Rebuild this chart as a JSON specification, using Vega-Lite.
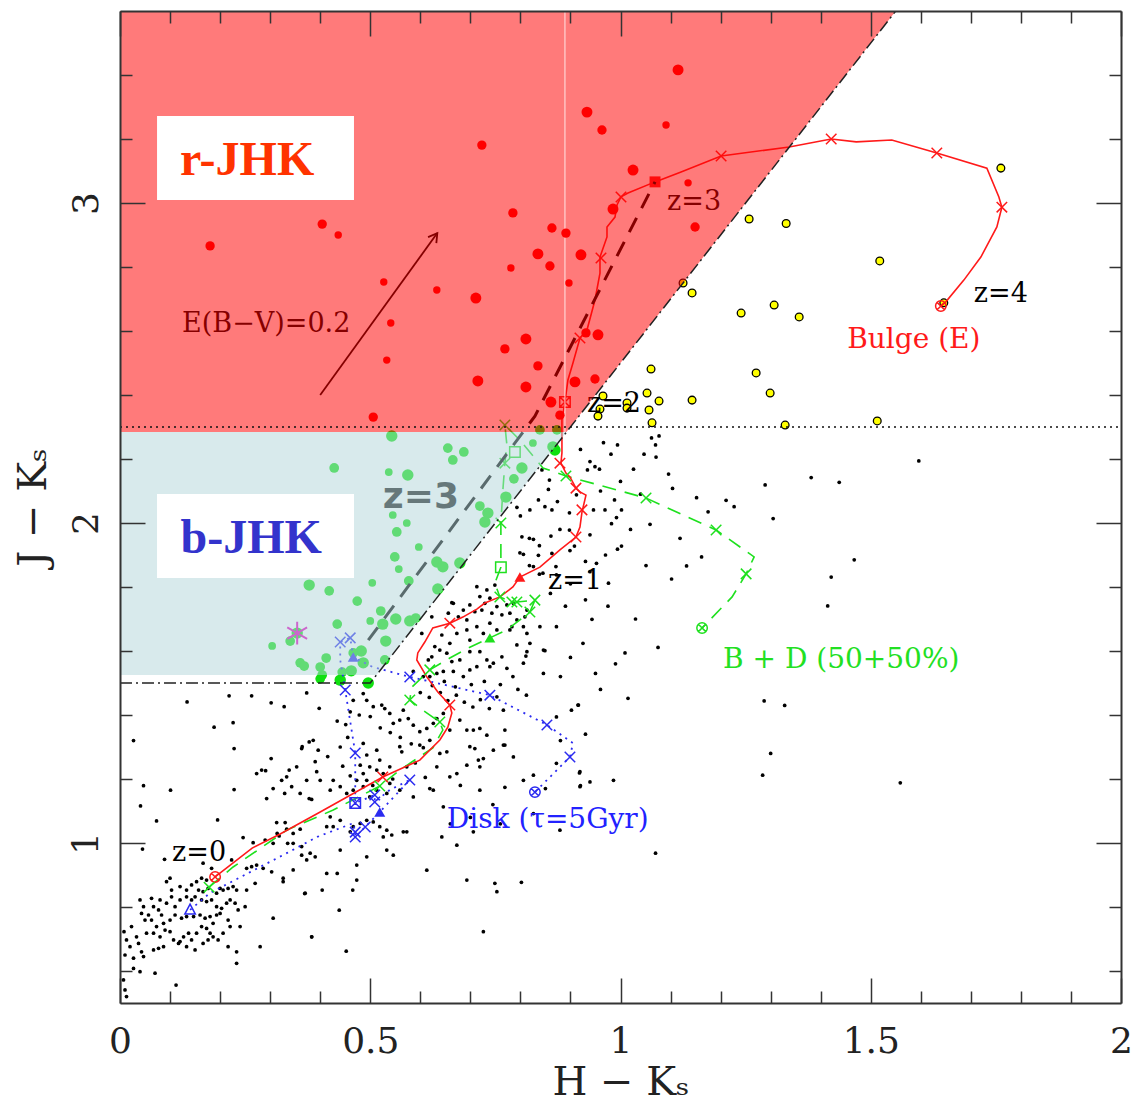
{
"$schema": "https://vega.github.io/schema/vega-lite/v6.json",
"width": 1001, "height": 992,
"autosize": "none",
"padding": {"left": 120, "top": 11, "right": 11, "bottom": 106},
"background": "white",
"config": {"view": {"stroke": null}},
"datasets": {
"dots": [
{"x":0.041,"y":1.116},{"x":0.073,"y":1.069},{"x":0.195,"y":1.072},{"x":0.313,"y":1.064},{"x":0.330,"y":1.064},{"x":0.333,"y":1.043},{"x":0.314,"y":1.030},{"x":0.318,"y":1.022},{"x":0.335,"y":0.999},{"x":0.346,"y":1.030},{"x":0.360,"y":1.043},{"x":0.045,"y":0.981},{"x":0.246,"y":1.017},{"x":0.266,"y":1.001},{"x":0.290,"y":1.009},{"x":0.306,"y":0.999},{"x":0.346,"y":0.999},{"x":0.363,"y":0.989},{"x":0.380,"y":0.968},{"x":0.089,"y":0.949},{"x":0.166,"y":0.937},{"x":0.183,"y":0.921},{"x":0.223,"y":0.947},{"x":0.263,"y":0.926},{"x":0.273,"y":0.931},{"x":0.286,"y":0.921},{"x":0.303,"y":0.910},{"x":0.326,"y":0.890},{"x":0.346,"y":0.916},{"x":0.363,"y":0.962},{"x":0.373,"y":0.947},{"x":0.390,"y":0.957},{"x":0.100,"y":0.890},{"x":0.093,"y":0.879},{"x":0.103,"y":0.853},{"x":0.120,"y":0.864},{"x":0.133,"y":0.853},{"x":0.143,"y":0.869},{"x":0.153,"y":0.879},{"x":0.163,"y":0.890},{"x":0.173,"y":0.884},{"x":0.157,"y":0.853},{"x":0.166,"y":0.848},{"x":0.176,"y":0.858},{"x":0.193,"y":0.843},{"x":0.200,"y":0.858},{"x":0.206,"y":0.853},{"x":0.216,"y":0.858},{"x":0.226,"y":0.864},{"x":0.233,"y":0.853},{"x":0.253,"y":0.853},{"x":0.270,"y":0.874},{"x":0.253,"y":0.921},{"x":0.063,"y":0.827},{"x":0.080,"y":0.822},{"x":0.067,"y":0.801},{"x":0.077,"y":0.791},{"x":0.083,"y":0.775},{"x":0.093,"y":0.812},{"x":0.103,"y":0.832},{"x":0.110,"y":0.801},{"x":0.120,"y":0.822},{"x":0.133,"y":0.832},{"x":0.143,"y":0.822},{"x":0.150,"y":0.832},{"x":0.163,"y":0.822},{"x":0.173,"y":0.817},{"x":0.183,"y":0.822},{"x":0.193,"y":0.801},{"x":0.203,"y":0.796},{"x":0.213,"y":0.812},{"x":0.220,"y":0.822},{"x":0.230,"y":0.812},{"x":0.236,"y":0.791},{"x":0.250,"y":0.801},{"x":0.040,"y":0.822},{"x":0.043,"y":0.780},{"x":0.047,"y":0.801},{"x":0.050,"y":0.759},{"x":0.057,"y":0.775},{"x":0.063,"y":0.759},{"x":0.073,"y":0.739},{"x":0.087,"y":0.749},{"x":0.100,"y":0.759},{"x":0.110,"y":0.775},{"x":0.123,"y":0.765},{"x":0.133,"y":0.770},{"x":0.147,"y":0.770},{"x":0.160,"y":0.775},{"x":0.170,"y":0.765},{"x":0.180,"y":0.770},{"x":0.193,"y":0.775},{"x":0.200,"y":0.780},{"x":0.216,"y":0.759},{"x":0.023,"y":0.739},{"x":0.033,"y":0.707},{"x":0.037,"y":0.686},{"x":0.043,"y":0.660},{"x":0.053,"y":0.718},{"x":0.067,"y":0.718},{"x":0.080,"y":0.707},{"x":0.090,"y":0.728},{"x":0.100,"y":0.723},{"x":0.107,"y":0.697},{"x":0.117,"y":0.686},{"x":0.127,"y":0.707},{"x":0.137,"y":0.718},{"x":0.153,"y":0.718},{"x":0.163,"y":0.739},{"x":0.173,"y":0.733},{"x":0.186,"y":0.749},{"x":0.180,"y":0.718},{"x":0.196,"y":0.697},{"x":0.206,"y":0.718},{"x":0.220,"y":0.739},{"x":0.240,"y":0.739},{"x":0.008,"y":0.723},{"x":0.013,"y":0.697},{"x":0.020,"y":0.676},{"x":0.010,"y":0.650},{"x":0.027,"y":0.640},{"x":0.047,"y":0.645},{"x":0.067,"y":0.666},{"x":0.077,"y":0.671},{"x":0.087,"y":0.676},{"x":0.120,"y":0.692},{"x":0.133,"y":0.676},{"x":0.143,"y":0.697},{"x":0.150,"y":0.666},{"x":0.166,"y":0.686},{"x":0.176,"y":0.697},{"x":0.186,"y":0.707},{"x":0.216,"y":0.676},{"x":0.233,"y":0.660},{"x":0.280,"y":0.676},{"x":0.306,"y":0.765},{"x":0.326,"y":0.879},{"x":0.370,"y":0.843},{"x":0.383,"y":0.707},{"x":0.233,"y":0.624},{"x":0.040,"y":0.598},{"x":0.070,"y":0.593},{"x":0.112,"y":0.556},{"x":0.010,"y":0.541},{"x":0.013,"y":0.520},{"x":0.027,"y":0.608},{"x":0.007,"y":0.572},
{"x":0.218,"y":1.460},{"x":0.263,"y":1.460},{"x":0.302,"y":1.438},{"x":0.328,"y":1.426},{"x":0.373,"y":1.469},{"x":0.398,"y":1.421},{"x":0.134,"y":1.441},{"x":0.188,"y":1.362},{"x":0.226,"y":1.376},{"x":0.027,"y":1.320},{"x":0.228,"y":1.295},{"x":0.302,"y":1.264},{"x":0.364,"y":1.301},{"x":0.378,"y":1.316},{"x":0.386,"y":1.321},{"x":0.396,"y":1.290},{"x":0.390,"y":1.254},{"x":0.273,"y":1.217},{"x":0.283,"y":1.228},{"x":0.291,"y":1.226},{"x":0.338,"y":1.228},{"x":0.333,"y":1.207},{"x":0.047,"y":1.179},{"x":0.101,"y":1.165},{"x":0.228,"y":1.167},{"x":0.329,"y":1.155},{"x":0.293,"y":1.139},{"x":0.378,"y":1.139},{"x":0.383,"y":1.136},{"x":0.363,"y":1.295},{"x":0.306,"y":1.170},{"x":0.323,"y":1.196},{"x":0.343,"y":1.176},{"x":0.360,"y":1.155},{"x":0.373,"y":1.196},{"x":0.400,"y":1.196},{"x":0.353,"y":1.238},{"x":0.393,"y":1.223},
{"x":0.434,"y":1.381},{"x":0.451,"y":1.370},{"x":0.460,"y":1.410},{"x":0.466,"y":1.446},{"x":0.486,"y":1.467},{"x":0.493,"y":1.446},{"x":0.506,"y":1.426},{"x":0.523,"y":1.431},{"x":0.529,"y":1.420},{"x":0.539,"y":1.405},{"x":0.546,"y":1.374},{"x":0.559,"y":1.384},{"x":0.566,"y":1.415},{"x":0.576,"y":1.389},{"x":0.586,"y":1.368},{"x":0.599,"y":1.348},{"x":0.613,"y":1.358},{"x":0.626,"y":1.374},{"x":0.633,"y":1.389},{"x":0.646,"y":1.405},{"x":0.659,"y":1.353},{"x":0.679,"y":1.384},{"x":0.693,"y":1.353},{"x":0.706,"y":1.353},{"x":0.719,"y":1.358},{"x":0.733,"y":1.337},{"x":0.766,"y":1.415},{"x":0.769,"y":1.353},{"x":0.766,"y":1.306},{"x":0.753,"y":1.457},{"x":0.812,"y":1.462},{"x":0.872,"y":1.394},{"x":0.902,"y":1.415},{"x":0.916,"y":1.431},
{"x":0.486,"y":1.311},{"x":0.513,"y":1.290},{"x":0.519,"y":1.259},{"x":0.499,"y":1.238},{"x":0.493,"y":1.275},{"x":0.480,"y":1.243},{"x":0.486,"y":1.217},{"x":0.493,"y":1.196},{"x":0.513,"y":1.228},{"x":0.526,"y":1.217},{"x":0.539,"y":1.238},{"x":0.559,"y":1.301},{"x":0.563,"y":1.285},{"x":0.573,"y":1.238},{"x":0.599,"y":1.306},{"x":0.619,"y":1.321},{"x":0.639,"y":1.280},{"x":0.653,"y":1.285},{"x":0.659,"y":1.207},{"x":0.673,"y":1.217},{"x":0.693,"y":1.243},{"x":0.699,"y":1.301},{"x":0.709,"y":1.295},{"x":0.716,"y":1.259},{"x":0.726,"y":1.264},{"x":0.719,"y":1.238},{"x":0.746,"y":1.290},{"x":0.769,"y":1.306},{"x":0.786,"y":1.269},{"x":0.806,"y":1.196},{"x":0.826,"y":1.212},{"x":0.872,"y":1.249},{"x":0.919,"y":1.223},{"x":0.939,"y":1.191},{"x":0.986,"y":1.196},
{"x":0.420,"y":1.165},{"x":0.426,"y":1.196},{"x":0.440,"y":1.176},{"x":0.453,"y":1.155},{"x":0.466,"y":1.165},{"x":0.473,"y":1.196},{"x":0.486,"y":1.176},{"x":0.499,"y":1.144},{"x":0.513,"y":1.165},{"x":0.533,"y":1.155},{"x":0.539,"y":1.186},{"x":0.559,"y":1.165},{"x":0.586,"y":1.144},{"x":0.619,"y":1.170},{"x":0.626,"y":1.165},{"x":0.646,"y":1.113},{"x":0.633,"y":1.238},{"x":0.719,"y":1.165},{"x":0.769,"y":1.174},{"x":0.826,"y":1.092},{"x":0.879,"y":1.040},{"x":0.919,"y":1.176},
{"x":0.426,"y":1.051},{"x":0.440,"y":0.978},{"x":0.473,"y":0.931},{"x":0.473,"y":0.884},{"x":0.493,"y":0.957},{"x":0.519,"y":1.051},{"x":0.533,"y":0.978},{"x":0.546,"y":0.962},{"x":0.543,"y":1.025},{"x":0.566,"y":1.035},{"x":0.573,"y":1.035},{"x":0.613,"y":0.915},{"x":0.643,"y":1.019},{"x":0.673,"y":0.993},{"x":0.693,"y":0.884},{"x":0.706,"y":1.035},{"x":0.749,"y":0.874},{"x":0.753,"y":0.848},{"x":0.802,"y":0.877},{"x":0.726,"y":0.723},{"x":0.413,"y":0.905},{"x":0.434,"y":0.905},{"x":0.438,"y":0.790},{"x":0.465,"y":0.853},{"x":0.452,"y":0.662},{"x":0.383,"y":0.707},{"x":0.369,"y":0.842},{"x":0.404,"y":0.853},{"x":0.413,"y":1.051},{"x":0.420,"y":1.082},{"x":0.440,"y":1.071},{"x":0.460,"y":1.035},{"x":0.466,"y":1.051},{"x":0.480,"y":1.061},{"x":0.493,"y":1.071},{"x":0.506,"y":1.066},{"x":0.526,"y":1.019},{"x":0.533,"y":1.040},
{"x":0.713,"y":1.801},{"x":0.733,"y":1.791},{"x":0.749,"y":1.806},{"x":0.719,"y":1.770},{"x":0.729,"y":1.749},{"x":0.739,"y":1.765},{"x":0.699,"y":1.744},{"x":0.686,"y":1.728},{"x":0.709,"y":1.723},{"x":0.666,"y":1.749},{"x":0.656,"y":1.718},{"x":0.676,"y":1.707},{"x":0.693,"y":1.697},{"x":0.723,"y":1.728},{"x":0.753,"y":1.739},{"x":0.743,"y":1.718},{"x":0.763,"y":1.713},{"x":0.779,"y":1.718},{"x":0.793,"y":1.697},{"x":0.809,"y":1.707},{"x":0.813,"y":1.728},{"x":0.786,"y":1.749},{"x":0.773,"y":1.744},{"x":0.739,"y":1.687},{"x":0.713,"y":1.676},{"x":0.693,"y":1.666},{"x":0.673,"y":1.655},{"x":0.659,"y":1.624},{"x":0.699,"y":1.634},{"x":0.726,"y":1.655},{"x":0.753,"y":1.666},{"x":0.779,"y":1.666},{"x":0.783,"y":1.676},{"x":0.806,"y":1.676},{"x":0.813,"y":1.655},{"x":0.839,"y":1.676},{"x":0.872,"y":1.676},{"x":0.846,"y":1.603},{"x":0.603,"y":1.655},{"x":0.623,"y":1.707},{"x":0.663,"y":1.751},{"x":0.643,"y":1.650},{"x":0.629,"y":1.614},{"x":0.639,"y":1.603},{"x":0.623,"y":1.582},{"x":0.616,"y":1.572},{"x":0.653,"y":1.593},{"x":0.663,"y":1.567},{"x":0.679,"y":1.572},{"x":0.699,"y":1.541},{"x":0.713,"y":1.551},{"x":0.733,"y":1.572},{"x":0.739,"y":1.551},{"x":0.746,"y":1.562},{"x":0.719,"y":1.598},{"x":0.699,"y":1.598},{"x":0.763,"y":1.582},{"x":0.773,"y":1.546},{"x":0.806,"y":1.562},{"x":0.813,"y":1.598},{"x":0.793,"y":1.619},{"x":0.819,"y":1.624},{"x":0.846,"y":1.530},{"x":0.606,"y":1.520},{"x":0.619,"y":1.520},{"x":0.633,"y":1.530},{"x":0.646,"y":1.536},{"x":0.666,"y":1.536},{"x":0.686,"y":1.520},{"x":0.586,"y":1.536},
{"x":0.966,"y":2.251},{"x":0.994,"y":2.244},{"x":1.070,"y":2.244},{"x":1.047,"y":2.215},{"x":0.981,"y":2.215},{"x":0.939,"y":2.192},{"x":0.949,"y":2.176},{"x":0.958,"y":2.168},{"x":0.934,"y":2.166},{"x":1.026,"y":2.168},{"x":1.096,"y":2.153},{"x":1.104,"y":2.108},{"x":1.077,"y":2.272},{"x":0.858,"y":2.134},{"x":0.856,"y":2.105},{"x":0.843,"y":2.166},{"x":0.836,"y":2.072},{"x":0.849,"y":2.051},{"x":0.863,"y":2.041},{"x":0.874,"y":2.067},{"x":0.819,"y":2.041},{"x":0.898,"y":2.032},{"x":0.912,"y":2.088},{"x":0.946,"y":2.041},{"x":0.969,"y":2.041},{"x":1.002,"y":2.041},{"x":0.992,"y":2.017},{"x":0.988,"y":2.072},{"x":0.982,"y":1.998},{"x":1.059,"y":1.996},{"x":1.002,"y":1.928},{"x":0.994,"y":1.918},{"x":0.939,"y":1.963},{"x":0.898,"y":1.978},{"x":0.879,"y":1.980},{"x":0.861,"y":1.959},{"x":0.838,"y":1.929},{"x":0.818,"y":1.952},{"x":0.803,"y":1.957},{"x":0.799,"y":1.907},{"x":0.826,"y":1.949},{"x":0.806,"y":1.902},{"x":0.836,"y":1.899},{"x":0.818,"y":1.867},{"x":0.871,"y":1.864},{"x":0.845,"y":1.843},{"x":0.863,"y":1.905},{"x":0.899,"y":1.914},{"x":0.908,"y":1.928},{"x":0.939,"y":1.848},{"x":0.952,"y":1.874},{"x":0.976,"y":1.812},{"x":1.051,"y":1.867},{"x":1.102,"y":1.825},{"x":0.800,"y":2.022},{"x":0.793,"y":2.049},{"x":1.119,"y":1.952},{"x":0.872,"y":1.838},{"x":0.838,"y":1.840},{"x":0.826,"y":1.864},
{"x":1.596,"y":2.194},{"x":1.381,"y":2.142},{"x":1.437,"y":2.127},{"x":1.289,"y":2.119},{"x":1.305,"y":2.014},{"x":1.211,"y":2.071},{"x":1.227,"y":2.051},{"x":1.175,"y":2.035},{"x":1.152,"y":2.079},{"x":1.162,"y":1.894},{"x":1.132,"y":1.866},{"x":1.467,"y":1.885},{"x":1.421,"y":1.831},{"x":1.414,"y":1.741},{"x":1.075,"y":1.611},{"x":1.009,"y":1.594},{"x":0.925,"y":1.624},{"x":0.943,"y":1.699},{"x":0.849,"y":1.601},{"x":0.811,"y":1.584},{"x":1.287,"y":1.444},{"x":1.328,"y":1.430},{"x":1.015,"y":1.452},{"x":0.915,"y":1.431},{"x":1.300,"y":1.280},{"x":1.284,"y":1.212},{"x":0.918,"y":1.219},{"x":0.920,"y":1.179},{"x":1.559,"y":1.188},{"x":1.070,"y":0.968},{"x":1.062,"y":2.266},{"x":1.071,"y":2.206},
{"x":0.600,"y":1.470},{"x":0.618,"y":1.455},{"x":0.640,"y":1.470},{"x":0.655,"y":1.445},{"x":0.672,"y":1.462},{"x":0.688,"y":1.440},{"x":0.705,"y":1.425},{"x":0.720,"y":1.448},{"x":0.738,"y":1.420},{"x":0.624,"y":1.492},{"x":0.648,"y":1.505},{"x":0.670,"y":1.488},{"x":0.702,"y":1.495},{"x":0.728,"y":1.505},{"x":0.760,"y":1.495},{"x":0.785,"y":1.520},{"x":0.795,"y":1.480},{"x":0.560,"y":1.330},{"x":0.582,"y":1.310},{"x":0.606,"y":1.298},{"x":0.540,"y":1.345},{"x":0.520,"y":1.360},{"x":0.500,"y":1.395},{"x":0.478,"y":1.400},{"x":0.455,"y":1.330},{"x":0.440,"y":1.300},{"x":0.415,"y":1.270},{"x":0.445,"y":1.240},{"x":0.460,"y":1.210},{"x":0.505,"y":1.180},{"x":0.545,"y":1.200},{"x":0.590,"y":1.250},{"x":0.610,"y":1.205},{"x":0.680,"y":1.180},{"x":0.745,"y":1.120},{"x":0.700,"y":1.080},{"x":0.660,"y":1.060},{"x":0.760,"y":1.060},{"x":0.850,"y":1.170},{"x":0.880,"y":1.320},{"x":0.930,"y":1.340},{"x":0.960,"y":1.480},{"x":0.990,"y":1.560},{"x":0.880,"y":1.520},{"x":0.900,"y":1.580},{"x":0.950,"y":1.530},{"x":1.030,"y":1.700},{"x":0.975,"y":1.740},{"x":0.930,"y":1.760},{"x":0.890,"y":1.740},{"x":0.860,"y":1.780},{"x":0.900,"y":1.810},{"x":0.930,"y":1.880},{"x":0.970,"y":1.900},{"x":1.020,"y":1.980},{"x":1.040,"y":2.090},{"x":1.000,"y":2.130},{"x":0.920,"y":2.230},{"x":0.960,"y":2.100}
],
"green": [
{"x":0.543,"y":2.272,"s":"L"},{"x":0.428,"y":2.172,"s":"M"},{"x":0.655,"y":2.234,"s":"M"},{"x":0.687,"y":2.222,"s":"M"},{"x":0.665,"y":2.197,"s":"M"},{"x":0.537,"y":2.159,"s":"S"},{"x":0.575,"y":2.150,"s":"L"},{"x":0.803,"y":2.172,"s":"L"},{"x":0.787,"y":2.138,"s":"M"},{"x":0.825,"y":2.250,"s":"S"},{"x":0.865,"y":2.238,"s":"L"},{"x":0.771,"y":2.081,"s":"L"},{"x":0.719,"y":2.053,"s":"M"},{"x":0.735,"y":2.031,"s":"L"},{"x":0.729,"y":2.003,"s":"L"},{"x":0.545,"y":2.025,"s":"S"},{"x":0.573,"y":2.000,"s":"S"},{"x":0.553,"y":1.972,"s":"M"},{"x":0.597,"y":1.925,"s":"S"},{"x":0.549,"y":1.894,"s":"M"},{"x":0.557,"y":1.856,"s":"S"},{"x":0.633,"y":1.878,"s":"L"},{"x":0.645,"y":1.863,"s":"L"},{"x":0.679,"y":1.875,"s":"L"},{"x":0.577,"y":1.819,"s":"M"},{"x":0.635,"y":1.794,"s":"L"},{"x":0.378,"y":1.806,"s":"L"},{"x":0.418,"y":1.788,"s":"M"},{"x":0.504,"y":1.813,"s":"S"},{"x":0.474,"y":1.756,"s":"M"},{"x":0.521,"y":1.725,"s":"M"},{"x":0.500,"y":1.694,"s":"S"},{"x":0.525,"y":1.684,"s":"L"},{"x":0.551,"y":1.700,"s":"L"},{"x":0.579,"y":1.694,"s":"L"},{"x":0.591,"y":1.703,"s":"M"},{"x":0.434,"y":1.684,"s":"M"},{"x":0.354,"y":1.656,"s":"L"},{"x":0.340,"y":1.631,"s":"M"},{"x":0.304,"y":1.616,"s":"S"},{"x":0.531,"y":1.631,"s":"L"},{"x":0.482,"y":1.600,"s":"L"},{"x":0.466,"y":1.594,"s":"M"},{"x":0.412,"y":1.578,"s":"M"},{"x":0.360,"y":1.563,"s":"M"},{"x":0.368,"y":1.553,"s":"M"},{"x":0.400,"y":1.550,"s":"M"},{"x":0.404,"y":1.525,"s":"M"},{"x":0.444,"y":1.534,"s":"M"},{"x":0.462,"y":1.538,"s":"L"},{"x":0.486,"y":1.563,"s":"L"},{"x":0.529,"y":1.572,"s":"M"},{"x":0.400,"y":1.513,"s":"M"},{"x":0.440,"y":1.509,"s":"L"},{"x":0.496,"y":1.500,"s":"L"},{"x":0.869,"y":2.228,"s":"L"},{"x":0.839,"y":2.291,"s":"M"},{"x":0.873,"y":2.291,"s":"M"}
],
"reddots": [
{"x":0.180,"y":2.866,"s":"M"},{"x":0.404,"y":2.934,"s":"M"},{"x":0.436,"y":2.900,"s":"S"},{"x":0.723,"y":3.181,"s":"M"},{"x":0.933,"y":3.284,"s":"L"},{"x":0.963,"y":3.228,"s":"M"},{"x":0.785,"y":2.969,"s":"M"},{"x":0.863,"y":2.922,"s":"M"},{"x":0.891,"y":2.906,"s":"M"},{"x":0.835,"y":2.841,"s":"L"},{"x":0.921,"y":2.838,"s":"L"},{"x":0.859,"y":2.803,"s":"M"},{"x":0.781,"y":2.797,"s":"S"},{"x":0.897,"y":2.750,"s":"S"},{"x":0.527,"y":2.753,"s":"S"},{"x":0.633,"y":2.728,"s":"S"},{"x":0.711,"y":2.703,"s":"L"},{"x":0.541,"y":2.625,"s":"S"},{"x":0.811,"y":2.575,"s":"L"},{"x":0.769,"y":2.544,"s":"M"},{"x":0.955,"y":2.588,"s":"L"},{"x":0.931,"y":2.594,"s":"M"},{"x":0.533,"y":2.509,"s":"S"},{"x":0.835,"y":2.491,"s":"M"},{"x":0.715,"y":2.444,"s":"L"},{"x":0.811,"y":2.425,"s":"L"},{"x":0.909,"y":2.441,"s":"L"},{"x":0.949,"y":2.450,"s":"M"},{"x":0.861,"y":2.378,"s":"L"},{"x":0.879,"y":2.337,"s":"M"},{"x":0.506,"y":2.331,"s":"M"},{"x":0.985,"y":2.981,"s":"L"},{"x":1.115,"y":3.416,"s":"L"},{"x":1.091,"y":3.244,"s":"S"},{"x":1.025,"y":3.103,"s":"L"},{"x":1.135,"y":3.063,"s":"S"},{"x":1.149,"y":2.925,"s":"M"}
],
"yellow": [
{"x":1.760,"y":3.109},{"x":1.257,"y":2.950},{"x":1.331,"y":2.936},{"x":1.518,"y":2.819},{"x":1.125,"y":2.750},{"x":1.143,"y":2.719},{"x":1.241,"y":2.656},{"x":1.307,"y":2.681},{"x":1.357,"y":2.644},{"x":1.646,"y":2.688},{"x":1.061,"y":2.481},{"x":1.271,"y":2.469},{"x":1.299,"y":2.406},{"x":0.965,"y":2.397},{"x":0.959,"y":2.356},{"x":0.955,"y":2.334},{"x":1.013,"y":2.375},{"x":1.013,"y":2.359},{"x":1.053,"y":2.406},{"x":1.057,"y":2.353},{"x":1.077,"y":2.381},{"x":1.143,"y":2.384},{"x":1.063,"y":2.313},{"x":1.329,"y":2.306},{"x":1.513,"y":2.319}
],
"redtrack": [
{"i":1,"x":0.190,"y":0.894},{"i":2,"x":0.264,"y":0.984},{"i":3,"x":0.320,"y":1.028},{"i":4,"x":0.400,"y":1.097},{"i":5,"x":0.525,"y":1.206},{"i":6,"x":0.599,"y":1.259},{"i":7,"x":0.639,"y":1.322},{"i":8,"x":0.655,"y":1.362},{"i":9,"x":0.663,"y":1.406},{"i":10,"x":0.659,"y":1.431},{"i":11,"x":0.635,"y":1.472},{"i":12,"x":0.613,"y":1.519},{"i":13,"x":0.593,"y":1.572},{"i":14,"x":0.595,"y":1.594},{"i":15,"x":0.609,"y":1.628},{"i":16,"x":0.625,"y":1.672},{"i":17,"x":0.659,"y":1.687},{"i":18,"x":0.685,"y":1.706},{"i":19,"x":0.713,"y":1.731},{"i":20,"x":0.729,"y":1.750},{"i":21,"x":0.759,"y":1.769},{"i":22,"x":0.785,"y":1.800},{"i":23,"x":0.799,"y":1.831},{"i":24,"x":0.839,"y":1.862},{"i":25,"x":0.879,"y":1.916},{"i":26,"x":0.911,"y":1.956},{"i":27,"x":0.919,"y":1.987},{"i":28,"x":0.923,"y":2.034},{"i":29,"x":0.931,"y":2.087},{"i":30,"x":0.919,"y":2.097},{"i":31,"x":0.911,"y":2.109},{"i":32,"x":0.899,"y":2.144},{"i":33,"x":0.891,"y":2.156},{"i":34,"x":0.881,"y":2.187},{"i":35,"x":0.883,"y":2.219},{"i":36,"x":0.883,"y":2.322},{"i":37,"x":0.889,"y":2.378},{"i":38,"x":0.895,"y":2.447},{"i":39,"x":0.905,"y":2.500},{"i":40,"x":0.919,"y":2.578},{"i":41,"x":0.933,"y":2.603},{"i":42,"x":0.949,"y":2.697},{"i":43,"x":0.959,"y":2.781},{"i":44,"x":0.959,"y":2.831},{"i":45,"x":0.973,"y":2.894},{"i":46,"x":0.973,"y":2.925},{"i":47,"x":0.989,"y":2.956},{"i":48,"x":0.993,"y":2.994},{"i":49,"x":1.001,"y":3.019},{"i":50,"x":1.015,"y":3.031},{"i":51,"x":1.069,"y":3.066},{"i":52,"x":1.121,"y":3.097},{"i":53,"x":1.201,"y":3.147},{"i":54,"x":1.337,"y":3.175},{"i":55,"x":1.421,"y":3.200},{"i":56,"x":1.471,"y":3.191},{"i":57,"x":1.542,"y":3.197},{"i":58,"x":1.632,"y":3.156},{"i":59,"x":1.732,"y":3.109},{"i":60,"x":1.756,"y":3.019},{"i":61,"x":1.762,"y":2.987},{"i":62,"x":1.752,"y":2.925},{"i":63,"x":1.720,"y":2.831},{"i":64,"x":1.686,"y":2.759},{"i":65,"x":1.650,"y":2.691},{"i":66,"x":1.640,"y":2.678}
],
"greentrack": [
{"i":1,"x":0.178,"y":0.862},{"i":2,"x":0.226,"y":0.925},{"i":3,"x":0.334,"y":1.041},{"i":4,"x":0.426,"y":1.103},{"i":5,"x":0.519,"y":1.178},{"i":6,"x":0.559,"y":1.228},{"i":7,"x":0.625,"y":1.297},{"i":8,"x":0.645,"y":1.353},{"i":9,"x":0.639,"y":1.378},{"i":10,"x":0.599,"y":1.422},{"i":11,"x":0.579,"y":1.447},{"i":12,"x":0.583,"y":1.487},{"i":13,"x":0.619,"y":1.541},{"i":14,"x":0.659,"y":1.578},{"i":15,"x":0.699,"y":1.612},{"i":16,"x":0.739,"y":1.641},{"i":17,"x":0.773,"y":1.666},{"i":18,"x":0.799,"y":1.697},{"i":19,"x":0.819,"y":1.722},{"i":20,"x":0.829,"y":1.759},{"i":21,"x":0.793,"y":1.753},{"i":22,"x":0.783,"y":1.753},{"i":23,"x":0.759,"y":1.769},{"i":24,"x":0.749,"y":1.812},{"i":25,"x":0.761,"y":1.862},{"i":26,"x":0.761,"y":2.000},{"i":27,"x":0.765,"y":2.103},{"i":28,"x":0.769,"y":2.187},{"i":29,"x":0.773,"y":2.244},{"i":30,"x":0.769,"y":2.306},{"i":31,"x":0.799,"y":2.259},{"i":32,"x":0.845,"y":2.172},{"i":33,"x":0.891,"y":2.147},{"i":34,"x":1.051,"y":2.078},{"i":35,"x":1.191,"y":1.978},{"i":36,"x":1.267,"y":1.894},{"i":37,"x":1.251,"y":1.841},{"i":38,"x":1.223,"y":1.769},{"i":39,"x":1.163,"y":1.672}
],
"bluetrack": [
{"i":1,"x":0.140,"y":0.791},{"i":2,"x":0.180,"y":0.844},{"i":3,"x":0.260,"y":0.909},{"i":4,"x":0.334,"y":0.969},{"i":5,"x":0.394,"y":1.019},{"i":6,"x":0.466,"y":1.062},{"i":7,"x":0.470,"y":1.034},{"i":8,"x":0.470,"y":1.019},{"i":9,"x":0.490,"y":1.050},{"i":10,"x":0.519,"y":1.097},{"i":11,"x":0.579,"y":1.197},{"i":12,"x":0.539,"y":1.166},{"i":13,"x":0.509,"y":1.128},{"i":14,"x":0.509,"y":1.150},{"i":15,"x":0.470,"y":1.125},{"i":16,"x":0.470,"y":1.281},{"i":17,"x":0.450,"y":1.478},{"i":18,"x":0.440,"y":1.572},{"i":19,"x":0.440,"y":1.628},{"i":20,"x":0.460,"y":1.641},{"i":21,"x":0.466,"y":1.581},{"i":22,"x":0.505,"y":1.550},{"i":23,"x":0.579,"y":1.519},{"i":24,"x":0.739,"y":1.462},{"i":25,"x":0.853,"y":1.369},{"i":26,"x":0.905,"y":1.312},{"i":27,"x":0.899,"y":1.269},{"i":28,"x":0.829,"y":1.159}
],
"marks": [
{"x":0.525,"y":1.206,"t":"bulge","m":"x"},{"x":0.659,"y":1.431,"t":"bulge","m":"x"},{"x":0.659,"y":1.687,"t":"bulge","m":"x"},{"x":0.879,"y":2.187,"t":"bulge","m":"x"},{"x":0.911,"y":2.109,"t":"bulge","m":"x"},{"x":0.923,"y":2.041,"t":"bulge","m":"x"},{"x":0.911,"y":1.956,"t":"bulge","m":"x"},{"x":0.919,"y":2.578,"t":"bulge","m":"x"},{"x":0.961,"y":2.828,"t":"bulge","m":"x"},{"x":1.001,"y":3.019,"t":"bulge","m":"x"},{"x":1.201,"y":3.147,"t":"bulge","m":"x"},{"x":1.421,"y":3.200,"t":"bulge","m":"x"},{"x":1.632,"y":3.156,"t":"bulge","m":"x"},{"x":1.762,"y":2.987,"t":"bulge","m":"x"},
{"x":0.190,"y":0.894,"t":"bulge","m":"cx"},{"x":0.889,"y":2.378,"t":"bulge","m":"sx"},{"x":1.640,"y":2.678,"t":"bulge","m":"cx"},
{"x":0.178,"y":0.862,"t":"bd","m":"x"},{"x":0.519,"y":1.178,"t":"bd","m":"x"},{"x":0.639,"y":1.378,"t":"bd","m":"x"},{"x":0.579,"y":1.447,"t":"bd","m":"x"},{"x":0.619,"y":1.541,"t":"bd","m":"x"},{"x":0.819,"y":1.722,"t":"bd","m":"x"},{"x":0.829,"y":1.759,"t":"bd","m":"x"},{"x":0.793,"y":1.753,"t":"bd","m":"x"},{"x":0.783,"y":1.753,"t":"bd","m":"x"},{"x":0.759,"y":1.769,"t":"bd","m":"x"},{"x":0.761,"y":2.000,"t":"bd","m":"x"},{"x":0.769,"y":2.187,"t":"bd","m":"x"},{"x":0.769,"y":2.306,"t":"bd","m":"x"},{"x":0.891,"y":2.147,"t":"bd","m":"x"},{"x":1.051,"y":2.078,"t":"bd","m":"x"},{"x":1.191,"y":1.978,"t":"bd","m":"x"},{"x":1.251,"y":1.841,"t":"bd","m":"x"},
{"x":0.761,"y":1.862,"t":"bd","m":"sq"},{"x":0.789,"y":2.222,"t":"bd","m":"sq"},{"x":1.163,"y":1.672,"t":"bd","m":"cx"},
{"x":0.470,"y":1.034,"t":"disk","m":"x"},{"x":0.470,"y":1.019,"t":"disk","m":"x"},{"x":0.490,"y":1.050,"t":"disk","m":"x"},{"x":0.579,"y":1.197,"t":"disk","m":"x"},{"x":0.509,"y":1.128,"t":"disk","m":"x"},{"x":0.509,"y":1.150,"t":"disk","m":"x"},{"x":0.470,"y":1.281,"t":"disk","m":"x"},{"x":0.450,"y":1.478,"t":"disk","m":"x"},{"x":0.440,"y":1.628,"t":"disk","m":"x"},{"x":0.460,"y":1.641,"t":"disk","m":"x"},{"x":0.579,"y":1.519,"t":"disk","m":"x"},{"x":0.739,"y":1.462,"t":"disk","m":"x"},{"x":0.853,"y":1.369,"t":"disk","m":"x"},{"x":0.899,"y":1.269,"t":"disk","m":"x"},
{"x":0.470,"y":1.125,"t":"disk","m":"sx"},{"x":0.829,"y":1.159,"t":"disk","m":"cx"},{"x":0.140,"y":0.791,"t":"disk","m":"tri"}
],
"filledmarks": [
{"x":0.799,"y":1.831,"t":"bulge","m":"tri"},{"x":1.069,"y":3.066,"t":"bulge","m":"sq"},{"x":0.739,"y":1.641,"t":"bd","m":"tri"},{"x":0.519,"y":1.097,"t":"disk","m":"tri"},{"x":0.466,"y":1.581,"t":"disk","m":"tri"}
],
"blacktext": [
{"x":0.104,"y":0.944,"t":"z=0"},{"x":0.855,"y":1.794,"t":"z=1"},{"x":0.933,"y":2.347,"t":"z=2"},{"x":1.093,"y":2.978,"t":"z=3"},{"x":1.706,"y":2.691,"t":"z=4"},{"x":0.124,"y":2.597,"t":"E(B−V)=0.2"}
],
"colortext": [
{"x":1.453,"y":2.547,"t":"Bulge (E)","c":"bulge"},{"x":1.205,"y":1.547,"t":"B + D (50+50%)","c":"bd"},{"x":0.653,"y":1.047,"t":"Disk (τ=5Gyr)","c":"disk"}
],
"dashed": [{"i":1,"x":0.496,"y":1.634},{"i":2,"x":0.829,"y":2.334},{"i":3,"x":1.069,"y":3.066}],
"arrow": [{"i":1,"x":0.400,"y":2.400},{"i":2,"x":0.634,"y":2.906}],
"redzone": [{"x":0,"y":3.6,"y2":2.284},{"x":0.892,"y":3.6,"y2":2.284},{"x":1.55,"y":3.6,"y2":3.6}],
"bluezone": [{"x":0,"y":2.284,"y2":1.525},{"x":0.5125,"y":2.284,"y2":1.525},{"x":0.892,"y":2.284,"y2":2.284}],
"dashdot": [{"i":1,"x":0,"y":1.5},{"i":2,"x":0.5,"y":1.5},{"i":3,"x":1.55,"y":3.6}],
"dotted": [{"i":1,"x":0,"y":2.30},{"i":2,"x":2,"y":2.30}],
"boxes": [{"x":0.074,"x2":0.4675,"y":3.009,"y2":3.272,"c":"r"},{"x":0.074,"x2":0.4675,"y":1.828,"y2":2.091,"c":"b"}],
"boxtext": [{"x":0.254,"y":3.0875,"t":"r-JHK","c":"r"},{"x":0.262,"y":1.906,"t":"b-JHK","c":"b"}]
},
"encoding": {
  "x": {"field": "x", "type": "quantitative", "scale": {"domain": [0, 2], "nice": false, "zero": false}, "axis": null},
  "y": {"field": "y", "type": "quantitative", "scale": {"domain": [0.5, 3.6], "nice": false, "zero": false}, "axis": null}
},
"layer": [
{
  "data": {"name": "dots"},
  "mark": {"type": "circle", "color": "black", "size": 14, "opacity": 1, "clip": true},
  "encoding": {
    "x": {"field": "x", "type": "quantitative", "scale": {"domain": [0, 2], "nice": false, "zero": false},
      "axis": {"orient": "bottom", "zindex": 2, "values": [0,0.1,0.2,0.3,0.4,0.5,0.6,0.7,0.8,0.9,1,1.1,1.2,1.3,1.4,1.5,1.6,1.7,1.8,1.9,2],
        "format": "~g", "labelExpr": "abs(datum.value*2-round(datum.value*2))<0.01 ? datum.label : ''",
        "tickSize": {"condition": {"test": "abs(datum.value*2-round(datum.value*2))<0.01", "value": -25}, "value": -12},
        "tickColor": "#333", "tickWidth": 1.5, "domain": true, "domainColor": "#333", "domainWidth": 2, "grid": false,
        "labelFont": "DejaVu Serif", "labelFontSize": 36, "labelColor": "#222", "labelPadding": 46, "labelOverlap": false, "labelFlush": false,
        "title": "H − Kₛ", "titleFont": "DejaVu Serif", "titleFontSize": 40, "titleFontWeight": "normal", "titleColor": "#222", "titlePadding": -10}},
    "y": {"field": "y", "type": "quantitative", "scale": {"domain": [0.5, 3.6], "nice": false, "zero": false},
      "axis": {"orient": "left", "zindex": 2, "values": [0.6,0.8,1,1.2,1.4,1.6,1.8,2,2.2,2.4,2.6,2.8,3,3.2,3.4],
        "format": "~g", "labelExpr": "abs(datum.value-round(datum.value))<0.01 ? datum.label : ''",
        "tickSize": {"condition": {"test": "abs(datum.value-round(datum.value))<0.01", "value": -25}, "value": -12},
        "tickColor": "#333", "tickWidth": 1.5, "domain": true, "domainColor": "#333", "domainWidth": 2, "grid": false,
        "labelFont": "DejaVu Serif", "labelFontSize": 36, "labelColor": "#222", "labelAngle": -90, "labelAlign": "center", "labelBaseline": "bottom", "labelPadding": 40, "labelOverlap": false, "labelFlush": false,
        "title": "J − Kₛ", "titleFont": "DejaVu Serif", "titleFontSize": 40, "titleFontWeight": "normal", "titleColor": "#222", "titlePadding": 2}}
  }
},
{
  "data": {"name": "green"},
  "mark": {"type": "circle", "color": "#10e010", "opacity": 1, "clip": true},
  "encoding": {"size": {"field": "s", "type": "nominal", "scale": {"domain": ["S","M","L"], "range": [60, 130, 250]}, "legend": null}}
},
{
  "data": {"name": "yellow"},
  "mark": {"type": "point", "shape": "circle", "filled": false, "fill": "#ffff00", "stroke": "black", "strokeWidth": 1.3, "size": 60, "opacity": 1, "fillOpacity": 1, "clip": true}
},
{
  "data": {"name": "greentrack"},
  "mark": {"type": "line", "color": "#1ee01e", "strokeWidth": 1.6, "strokeDash": [14, 9], "clip": true},
  "encoding": {"order": {"field": "i", "type": "quantitative"}}
},
{
  "data": {"name": "bluetrack"},
  "mark": {"type": "line", "color": "#2b2bf0", "strokeWidth": 1.8, "strokeDash": [2, 5], "clip": true},
  "encoding": {"order": {"field": "i", "type": "quantitative"}}
},
{
  "data": {"name": "redtrack"},
  "mark": {"type": "line", "color": "#ff1a1a", "strokeWidth": 1.6, "clip": true},
  "encoding": {"order": {"field": "i", "type": "quantitative"}}
},
{
  "data": {"name": "marks"},
  "mark": {"type": "point", "filled": false, "strokeWidth": 1.5, "size": 110, "opacity": 1, "clip": true},
  "encoding": {
    "color": {"field": "t", "type": "nominal", "scale": {"domain": ["bulge","bd","disk"], "range": ["#ff1a1a","#1ee01e","#2b2bf0"]}, "legend": null},
    "shape": {"field": "m", "type": "nominal", "scale": {"domain": ["x","cx","sx","sq","tri"], "range": ["M-1,-1L1,1M-1,1L1,-1", "M1,0A1,1,0,1,1,-1,0A1,1,0,1,1,1,0ZM-0.7,-0.7L0.7,0.7M-0.7,0.7L0.7,-0.7", "M-1,-1H1V1H-1ZM-1,-1L1,1M-1,1L1,-1", "M-1,-1H1V1H-1Z", "M0,-1.1L1,0.8H-1Z"]}, "legend": null}
  }
},
{
  "data": {"name": "filledmarks"},
  "mark": {"type": "point", "filled": true, "size": 120, "opacity": 1, "clip": true},
  "encoding": {
    "color": {"field": "t", "type": "nominal", "scale": {"domain": ["bulge","bd","disk"], "range": ["#ff1a1a","#1ee01e","#2b2bf0"]}, "legend": null},
    "shape": {"field": "m", "type": "nominal", "scale": {"domain": ["sq","tri"], "range": ["square","triangle-up"]}, "legend": null}
  }
},
{
  "data": {"name": "dashed"},
  "mark": {"type": "line", "color": "black", "strokeWidth": 3, "strokeDash": [16, 11], "clip": true},
  "encoding": {"order": {"field": "i", "type": "quantitative"}}
},
{
  "data": {"name": "arrow"},
  "mark": {"type": "line", "color": "black", "strokeWidth": 1.8, "clip": true},
  "encoding": {"order": {"field": "i", "type": "quantitative"}}
},
{
  "data": {"name": "arrow"},
  "transform": [{"filter": "datum.i == 2"}],
  "mark": {"type": "point", "shape": "M-0.5,0.85L0,0L0.5,0.85", "filled": false, "stroke": "black", "strokeWidth": 1.8, "size": 420, "angle": 36, "opacity": 1}
},
{
  "data": {"name": "blacktext"},
  "mark": {"type": "text", "align": "left", "baseline": "alphabetic", "font": "DejaVu Serif", "fontSize": 27, "color": "black"},
  "encoding": {"text": {"field": "t"}}
},
{
  "data": {"values": [{"x": 0.525, "y": 2.047, "t": "z=3"}]},
  "mark": {"type": "text", "align": "left", "baseline": "alphabetic", "font": "DejaVu Sans", "fontWeight": "bold", "fontSize": 36, "color": "#1a1a1a"},
  "encoding": {"text": {"field": "t"}}
},
{
  "data": {"name": "redzone"},
  "mark": {"type": "area", "color": "#ff0000", "opacity": 0.52, "clip": true},
  "encoding": {"y2": {"field": "y2"}}
},
{
  "data": {"name": "bluezone"},
  "mark": {"type": "area", "color": "#b1d5d9", "opacity": 0.5, "clip": true},
  "encoding": {"y2": {"field": "y2"}}
},
{
  "data": {"values": [{"x": 0.889, "y": 2.284, "y2": 3.6}]},
  "mark": {"type": "rule", "color": "white", "strokeWidth": 1, "opacity": 0.8},
  "encoding": {"y2": {"field": "y2"}}
},
{
  "data": {"name": "reddots"},
  "mark": {"type": "circle", "color": "#ff0000", "opacity": 1, "clip": true},
  "encoding": {
    "x": {"field": "x", "type": "quantitative", "scale": {"domain": [0, 2], "nice": false, "zero": false},
      "axis": {"orient": "top", "zindex": 2, "values": [0,0.1,0.2,0.3,0.4,0.5,0.6,0.7,0.8,0.9,1,1.1,1.2,1.3,1.4,1.5,1.6,1.7,1.8,1.9,2],
        "labels": false, "title": null,
        "tickSize": {"condition": {"test": "abs(datum.value*2-round(datum.value*2))<0.01", "value": -25}, "value": -12},
        "tickColor": "#333", "tickWidth": 1.5, "domain": true, "domainColor": "#333", "domainWidth": 2, "grid": false}},
    "y": {"field": "y", "type": "quantitative", "scale": {"domain": [0.5, 3.6], "nice": false, "zero": false},
      "axis": {"orient": "right", "zindex": 2, "values": [0.6,0.8,1,1.2,1.4,1.6,1.8,2,2.2,2.4,2.6,2.8,3,3.2,3.4],
        "labels": false, "title": null,
        "tickSize": {"condition": {"test": "abs(datum.value-round(datum.value))<0.01", "value": -25}, "value": -12},
        "tickColor": "#333", "tickWidth": 1.5, "domain": true, "domainColor": "#333", "domainWidth": 2, "grid": false}},
    "size": {"field": "s", "type": "nominal", "scale": {"domain": ["S","M","L"], "range": [55, 120, 230]}, "legend": null}
  }
},
{
  "data": {"values": [{"x": 0.354, "y": 1.656}]},
  "mark": {"type": "point", "shape": "M0,-1L0,1M-0.87,-0.5L0.87,0.5M-0.87,0.5L0.87,-0.5", "filled": false, "stroke": "#cc66cc", "strokeWidth": 2, "size": 520, "opacity": 1}
},
{
  "data": {"name": "dashdot"},
  "mark": {"type": "line", "color": "#222", "strokeWidth": 1.5, "strokeDash": [12, 4, 2, 4], "clip": true},
  "encoding": {"order": {"field": "i", "type": "quantitative"}}
},
{
  "data": {"name": "dotted"},
  "mark": {"type": "line", "color": "#111", "strokeWidth": 1.3, "strokeDash": [2, 4], "clip": true},
  "encoding": {"order": {"field": "i", "type": "quantitative"}}
},
{
  "data": {"name": "boxes"},
  "mark": {"type": "rect", "color": "white", "opacity": 1},
  "encoding": {"x2": {"field": "x2"}, "y2": {"field": "y2"}}
},
{
  "data": {"name": "boxtext"},
  "mark": {"type": "text", "align": "center", "baseline": "alphabetic", "font": "Liberation Serif", "fontWeight": "bold", "fontSize": 48},
  "encoding": {"text": {"field": "t"}, "color": {"field": "c", "type": "nominal", "scale": {"domain": ["r","b"], "range": ["#ff3300","#3333cc"]}, "legend": null}}
},
{
  "data": {"name": "colortext"},
  "mark": {"type": "text", "align": "left", "baseline": "alphabetic", "font": "DejaVu Serif", "fontSize": 28},
  "encoding": {"text": {"field": "t"}, "color": {"field": "c", "type": "nominal", "scale": {"domain": ["bulge","bd","disk"], "range": ["#ff1a1a","#22e022","#2222ff"]}, "legend": null}}
}
],
"resolve": {"axis": {"x": "independent", "y": "independent"}, "scale": {"color": "independent", "size": "independent", "shape": "independent"}}
}
